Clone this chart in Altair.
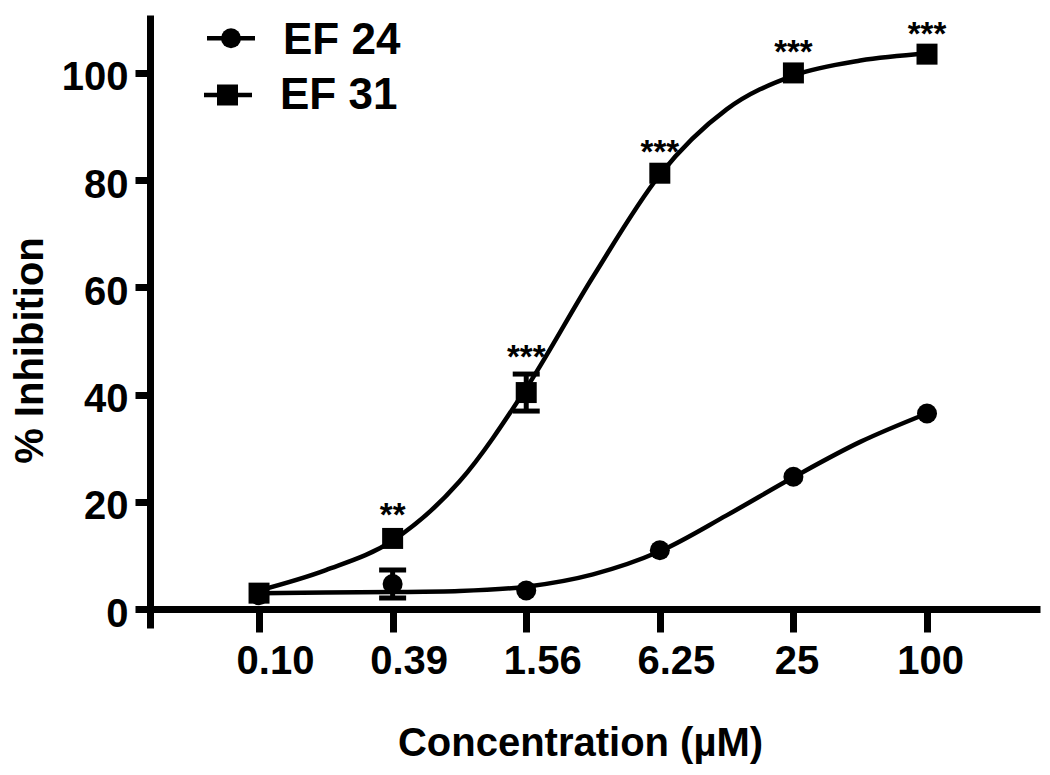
import altair as alt
import pandas as pd

# ---------------- data ----------------
conc = [0.09765625, 0.390625, 1.5625, 6.25, 25, 100]
conc_labels = ["0.10", "0.39", "1.56", "6.25", "25", "100"]

ef24_mean = [2.6, 4.7, 3.5, 11.0, 24.7, 36.5]
ef24_err = [0.5, 2.6, 0.5, 0.6, 0.6, 0.5]
ef31_mean = [3.0, 13.2, 40.4, 81.3, 100.0, 103.5]
ef31_err = [0.5, 0.6, 3.45, 0.6, 0.6, 0.6]

star_conc = [0.390625, 1.5625, 6.25, 25, 100]
star_labels = ["**", "***", "***", "***", "***"]
star_y = [18.5, 47.9, 86.1, 104.8, 108.1]

# fitted curves at half-steps
curve_conc = [0.09765625, 0.1953125, 0.390625, 0.78125, 1.5625, 3.125,
              6.25, 12.5, 25, 50, 100]
ef24_curve = [3.0, 3.1, 3.2, 3.4, 4.2, 6.5, 10.8, 17.5, 24.6, 31.2, 36.5]
ef31_curve = [3.5, 7.3, 12.8, 23.8, 41.2, 62.0, 81.0, 93.2, 99.5, 102.3, 103.6]

series_names = ["EF 24", "EF 31"]

FONT = "Liberation Sans"

# ---------------- tables ----------------
pts = pd.DataFrame({
    "conc": conc * 2,
    "mean": ef24_mean + ef31_mean,
    "err": ef24_err + ef31_err,
    "series": [series_names[0]] * len(conc) + [series_names[1]] * len(conc),
})
pts["lo"] = pts["mean"] - pts["err"]
pts["hi"] = pts["mean"] + pts["err"]

curves = pd.DataFrame({
    "conc": curve_conc * 2,
    "val": ef24_curve + ef31_curve,
    "series": [series_names[0]] * len(curve_conc) + [series_names[1]] * len(curve_conc),
})

stars = pd.DataFrame({"conc": star_conc, "y": star_y, "label": star_labels})

# ---------------- scales / axes ----------------
label_expr = ""
for i in range(len(conc) - 1):
    thr = (conc[i] * conc[i + 1]) ** 0.5
    label_expr += f"datum.value < {thr} ? '{conc_labels[i]}' : "
label_expr += f"'{conc_labels[-1]}'"

x_scale = alt.Scale(type="log", domain=[0.0315, 323], nice=False, zero=False)
y_scale = alt.Scale(domain=[-3.5, 110.8], nice=False, zero=False)

x_axis = alt.Axis(
    values=conc, labelExpr=label_expr, orient="bottom", offset=-19,
    tickSize=23, tickWidth=7, tickColor="black",
    domainWidth=7, domainColor="black",
    labelFont=FONT, labelFontSize=40, labelFontWeight="bold", labelColor="black",
    labelBaseline="alphabetic", labelPadding=41,
    labelOffset={"condition": {"test": "datum.value < 10", "value": 16}, "value": 3},
    labelFlush=False, labelOverlap=False, grid=False,
    title="Concentration (µM)", titleFont=FONT, titleFontSize=40,
    titleFontWeight="bold", titleColor="black",
    titleX=430, titleY=146, titleBaseline="alphabetic", titleAlign="center",
)
y_axis = alt.Axis(
    values=[0, 20, 40, 60, 80, 100],
    tickSize=15, tickWidth=7, tickColor="black",
    domainWidth=7, domainColor="black",
    labelFont=FONT, labelFontSize=40, labelFontWeight="bold", labelColor="black",
    labelBaseline="alphabetic", labelOffset=17, labelPadding=7,
    labelFlush=False, grid=False,
    title="% Inhibition", titleFont=FONT, titleFontSize=40,
    titleFontWeight="bold", titleColor="black",
    titleX=-108, titleY=335, titleAngle=-90, titleBaseline="alphabetic",
    titleAlign="center",
)

X = alt.X("conc:Q", scale=x_scale, axis=x_axis)

lines = alt.Chart(curves).mark_line(
    color="black", strokeWidth=4.5, interpolate="monotone"
).encode(
    x=X,
    y=alt.Y("val:Q", scale=y_scale, axis=y_axis),
    detail="series:N",
)

# only error bars that reach beyond the markers are visible
vis = alt.datum.err > 1.5
err_rule = alt.Chart(pts).transform_filter(vis).mark_rule(
    color="black", strokeWidth=5, opacity=1
).encode(
    x=alt.X("conc:Q", scale=x_scale), y=alt.Y("lo:Q", scale=y_scale), y2="hi:Q"
)
cap_lo = alt.Chart(pts).transform_filter(vis).mark_tick(
    color="black", orient="horizontal", size=27, thickness=5, opacity=1
).encode(x=alt.X("conc:Q", scale=x_scale), y=alt.Y("lo:Q", scale=y_scale))
cap_hi = alt.Chart(pts).transform_filter(vis).mark_tick(
    color="black", orient="horizontal", size=27, thickness=5, opacity=1
).encode(x=alt.X("conc:Q", scale=x_scale), y=alt.Y("hi:Q", scale=y_scale))

circles = alt.Chart(pts).transform_filter(
    alt.datum.series == series_names[0]
).mark_point(shape="circle", filled=True, size=400, color="black", opacity=1).encode(
    x=alt.X("conc:Q", scale=x_scale), y=alt.Y("mean:Q", scale=y_scale)
)
squares = alt.Chart(pts).transform_filter(
    alt.datum.series == series_names[1]
).mark_point(shape="square", filled=True, size=441, color="black", opacity=1).encode(
    x=alt.X("conc:Q", scale=x_scale), y=alt.Y("mean:Q", scale=y_scale)
)

star_text = alt.Chart(stars).mark_text(
    font=FONT, fontSize=33, fontWeight="bold", color="black",
    baseline="alphabetic", align="center", dy=16,
).encode(
    x=alt.X("conc:Q", scale=x_scale), y=alt.Y("y:Q", scale=y_scale), text="label:N"
)

# ---------------- legend (manual, top-left) ----------------
one = alt.Data(values=[{"k": 1}])
legend_layers = []
leg_specs = [
    (series_names[0], "circle", 400, 57, 105, 81, 23.3, 133, 39.3),
    (series_names[1], "square", 441, 54, 102, 77.5, 80, 130, 93.8),
]
for name, shape, size, lx1, lx2, mx, ly, tx, tby in leg_specs:
    legend_layers.append(
        alt.Chart(one).mark_rule(color="black", strokeWidth=4.5).encode(
            x=alt.value(lx1), x2=alt.value(lx2), y=alt.value(ly)
        )
    )
    legend_layers.append(
        alt.Chart(one).mark_point(shape=shape, filled=True, size=size,
                                  color="black", opacity=1).encode(
            x=alt.value(mx), y=alt.value(ly)
        )
    )
    legend_layers.append(
        alt.Chart(one).mark_text(
            text=name, font=FONT, fontSize=44, fontWeight="bold", color="black",
            align="left", baseline="alphabetic",
        ).encode(x=alt.value(tx), y=alt.value(tby))
    )

chart = alt.layer(
    lines, err_rule, cap_lo, cap_hi, circles, squares, star_text, *legend_layers
).properties(
    width=890, height=613,
    autosize=alt.AutoSizeParams(type="none"),
    padding={"left": 142, "top": 7, "right": 2, "bottom": 139},
    background="white",
).configure_view(stroke=None)

chart.save("out.html", embed_options={"renderer": "svg", "actions": False})
